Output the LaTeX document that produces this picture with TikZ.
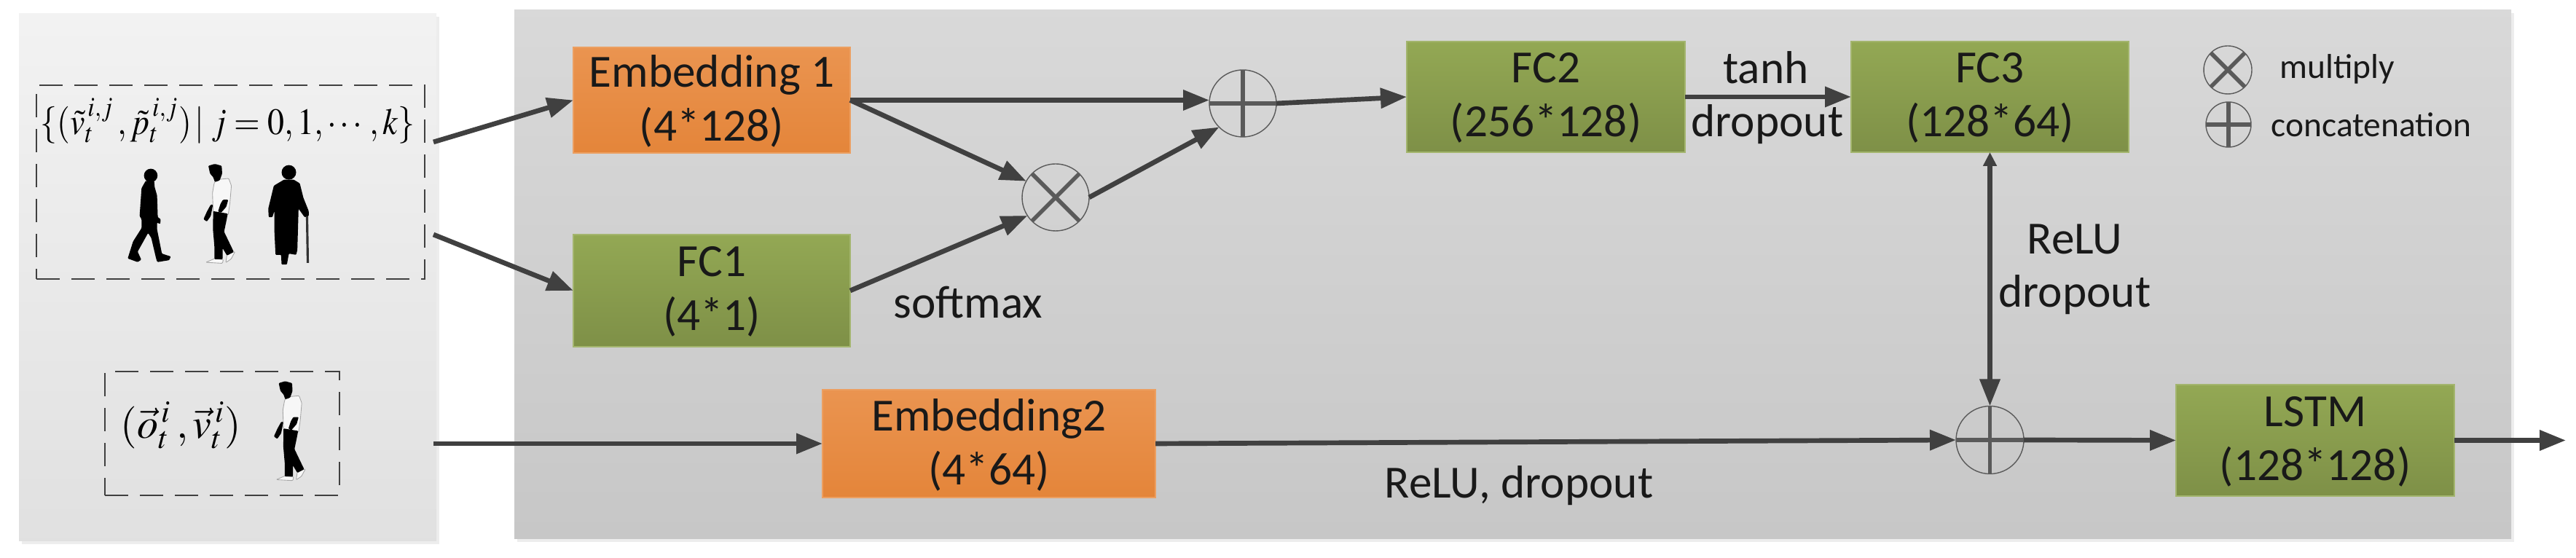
\documentclass[tikz,border=0pt]{standalone}
\usepackage{mathptmx}
\usepackage[no-math]{fontspec}
\setmainfont{Carlito}
\usepackage{amsmath,graphicx}
\usetikzlibrary{calc,shapes,positioning,arrows.meta,shadows}

\definecolor{arrowgray}{HTML}{404040}
\definecolor{signgray}{HTML}{5A5A5A}
\definecolor{orange1}{HTML}{EA9450}
\definecolor{orange2}{HTML}{E4853A}
\definecolor{green1}{HTML}{93A854}
\definecolor{green2}{HTML}{7E9047}

\begin{document}
\begin{tikzpicture}
    \tikzset{panel/.style = {rectangle, inner sep = 0pt, outer sep = 0pt, copy shadow = {shadow xshift = 0.04cm, shadow yshift = -0.04cm, fill = black!7, draw = none, opacity = 1}}}
    \tikzset{dashbox/.style = {rectangle, draw = arrowgray, line width = 0.6pt, dash pattern = on 0.32cm off 0.16cm, inner sep = 0pt}}
    \tikzset{block/.style = {rectangle, inner sep = 0pt, outer sep = 0pt, align = center, text = black!90, text depth = 1.5pt, font = \fontsize{18}{21}\selectfont}}
    \tikzset{orangenode/.style = {block, top color = orange1, bottom color = orange2, draw = orange1!90!white, line width = 0.4pt}}
    \tikzset{greennode/.style = {block, top color = green1, bottom color = green2, draw = green1!85!white, line width = 0.4pt}}
    \tikzset{signnode/.style = {circle, draw = signgray, line width = 0.4pt, inner sep = 0pt, outer sep = 0pt}}
    \tikzset{plussign/.style = {signnode, path picture = {
        \draw[signgray, line width = 1.6pt] (path picture bounding box.north) -- (path picture bounding box.south);
        \draw[signgray, line width = 1.6pt] (path picture bounding box.west) -- (path picture bounding box.east);}}}
    \tikzset{crosssign/.style = {signnode, path picture = {
        \draw[signgray, line width = 1.6pt] (path picture bounding box.north west) -- (path picture bounding box.south east);
        \draw[signgray, line width = 1.6pt] (path picture bounding box.north east) -- (path picture bounding box.south west);}}}
    \tikzset{lbl/.style = {inner sep = 0pt, text = black!90, font = \fontsize{18}{21}\selectfont}}
    \tikzset{smalllbl/.style = {inner sep = 0pt, text = black!90, font = \fontsize{13.5}{16}\selectfont}}
    \tikzset{conn/.style = {draw = arrowgray, line width = 1.9pt, -{Triangle[length = 0.36cm, width = 0.27cm]}}}
    \tikzset{figure/.style = {x = 0.0333mm, y = -0.0333mm, rounded corners = 0.3pt}}

    % people, coordinates as read off the crops
    \tikzset{walker/.pic = {
        \fill[black, figure] (141,78) ellipse [x radius = 28, y radius = 28];
        \fill[black, figure] (120,100) -- (155,100) -- (157,125) -- (167,160) -- (170,250) -- (182,258) -- (180,278) -- (167,272) -- (167,300)
            -- (187,400) -- (224,412) -- (217,427) -- (168,435) -- (163,420) -- (143,335) -- (130,315) -- (87,392) -- (102,425) -- (87,435)
            -- (46,420) -- (68,350) -- (103,295) -- (103,258) -- (95,245) -- (103,130) -- cycle;
    }}
    \tikzset{shirtman/.pic = {
        \filldraw[fill = white!97!black, draw = black!35, line width = 0.25pt, figure] (80,95) -- (132,90) -- (143,120) -- (137,190) -- (130,240) -- (68,230) -- (65,150) -- (72,110) -- cycle;
        \filldraw[fill = white!97!black, draw = black!35, line width = 0.25pt, figure] (38,436) -- (75,420) -- (110,425) -- (106,440) -- cycle;
        \filldraw[fill = white!97!black, draw = black!35, line width = 0.25pt, figure] (125,402) -- (158,392) -- (142,422) -- (120,437) -- cycle;
        \fill[black, figure] (48,38) -- (75,30) -- (103,38) -- (105,70) -- (95,98) -- (75,105) -- (68,85) -- (55,70) -- cycle;
        \fill[black, figure] (130,178) -- (122,207) -- (100,232) -- (88,226) -- (98,195) -- (108,178) -- cycle;
        \fill[black, figure] (67,198) -- (58,245) -- (42,268) -- (28,258) -- (43,225) -- (58,198) -- cycle;
        \fill[black, figure] (68,225) -- (128,235) -- (123,262) -- (113,310) -- (153,393) -- (125,408) -- (107,378) -- (107,423) -- (73,423)
            -- (73,370) -- (67,300) -- cycle;
    }}
    \tikzset{oldwoman/.pic = {
        \fill[black, figure] (380,65) ellipse [x radius = 30, y radius = 30];
        \fill[black, figure] (360,95) -- (400,95) -- (425,110) -- (440,170) -- (462,225) -- (462,245) -- (445,250) -- (420,215) -- (415,385)
            -- (410,405) -- (380,400) -- (372,445) -- (350,445) -- (348,405) -- (325,405) -- (320,300) -- (320,225) -- (312,250) -- (297,250)
            -- (295,215) -- (318,120) -- cycle;
        \draw[black!80, figure, line width = 0.9pt] (455,245) -- (458,438);
    }}

    \useasboundingbox (0,0) rectangle (35.36,7.66);

    \node[panel, top color = black!5, bottom color = black!12, minimum width = 5.73cm, minimum height = 7.24cm] (inpanel) at (3.125,3.85) {};
    \node[panel, top color = black!15, bottom color = black!22, minimum width = 27.41cm, minimum height = 7.26cm] (netpanel) at (20.765,3.89) {};

    \node[dashbox, minimum width = 5.33cm, minimum height = 2.66cm] (nbrbox) at (3.165,5.16) {};
    \node[dashbox, minimum width = 3.22cm, minimum height = 1.70cm] (selfbox) at (3.05,1.71) {};

    \node[inner sep = 0pt, font = \fontsize{14.5}{16}\selectfont] (nbrset) at (3.125,6.00) {\scalebox{0.9}[1]{$\{(\tilde{v}_t^{\,i,j}\,,\tilde{p}_t^{\,i,j})\,|\;j=0,1,\cdots,k\}$}};
    \node[inner sep = 0pt, font = \fontsize{16.5}{18}\selectfont] (selfset) at (2.485,1.82) {$(\vec{o}_t^{\,i}\,,\vec{v}_t^{\,i})$};

    \pic (walk1) at (1.60,5.51) {walker};
    \pic (walk2) at (2.70,5.51) {shirtman};
    \pic (walk3) at (2.70,5.51) {oldwoman};
    \pic (walk4) at (3.666,2.527) {shirtman};

    \node[orangenode, minimum width = 3.80cm, minimum height = 1.45cm] (emb1) at (9.77,6.285) {Embedding 1\\(4*128)};
    \node[greennode, minimum width = 3.80cm, minimum height = 1.54cm] (fc1) at (9.77,3.67) {FC1\\(4*1)};
    \node[orangenode, minimum width = 4.57cm, minimum height = 1.48cm] (emb2) at (13.575,1.57) {Embedding2\\(4*64)};
    \node[greennode, minimum width = 3.82cm, minimum height = 1.52cm] (fc2) at (21.22,6.33) {FC2\\(256*128)};
    \node[greennode, minimum width = 3.81cm, minimum height = 1.52cm] (fc3) at (27.315,6.33) {FC3\\(128*64)};
    \node[greennode, minimum width = 3.82cm, minimum height = 1.53cm] (lstm) at (31.78,1.615) {LSTM\\(128*128)};

    \node[plussign, minimum size = 0.92cm] (cat1) at (17.06,6.24) {};
    \node[crosssign, minimum size = 0.92cm] (mul) at (14.49,4.95) {};
    \node[plussign, minimum size = 0.93cm] (cat2) at (27.315,1.62) {};
    \node[crosssign, minimum size = 0.66cm] (keymul) at (30.58,6.70) {};
    \node[plussign, minimum size = 0.62cm] (keycat) at (30.59,5.95) {};

    \node[lbl] (softmax) at (13.29,3.51) {softmax};
    \node[lbl] (tanh) at (24.24,6.73) {tanh};
    \node[lbl] (drop1) at (24.26,5.95) {dropout};
    \node[lbl] (relu) at (28.48,4.38) {ReLU};
    \node[lbl] (drop2) at (28.48,3.61) {dropout};
    \node[lbl] (reludrop) at (20.85,0.99) {ReLU, dropout};
    \node[smalllbl] (keymultxt) at (32.08,6.71) {multiply};
    \node[smalllbl] (keycattxt) at (32.55,5.95) {concatenation};

    \coordinate (src1) at (5.95,5.71);
    \coordinate (src2) at (5.95,4.44);
    \coordinate (src3) at (5.95,1.57);
    \coordinate (out) at (35.22,1.615);

    \draw[conn] (src1) -- (emb1.west);
    \draw[conn] (src2) -- (fc1.west);
    \draw[conn] (src3) -- (emb2.west);

    \draw[conn] (emb1.east) -- (emb1.east -| cat1.west);
    \draw[conn] (emb1.east) -- (mul.151);
    \draw[conn] (fc1.east) -- (mul.213);
    \draw[conn] (mul.east) -- (cat1.225);
    \draw[conn] (cat1.east) -- (fc2.west);
    \draw[conn] (fc2.east) -- (fc3.west);

    \draw[conn] (emb2.east) -- (cat2.west);
    \draw[conn] (cat2.east) -- (lstm.west);
    \draw[conn] (lstm.east) -- (out);
    \draw[draw = arrowgray, line width = 1.9pt, {Triangle[length = 0.19cm, width = 0.18cm]}-{Triangle[length = 0.37cm, width = 0.27cm]}] (fc3.south) -- (cat2.north);
\end{tikzpicture}
\end{document}
